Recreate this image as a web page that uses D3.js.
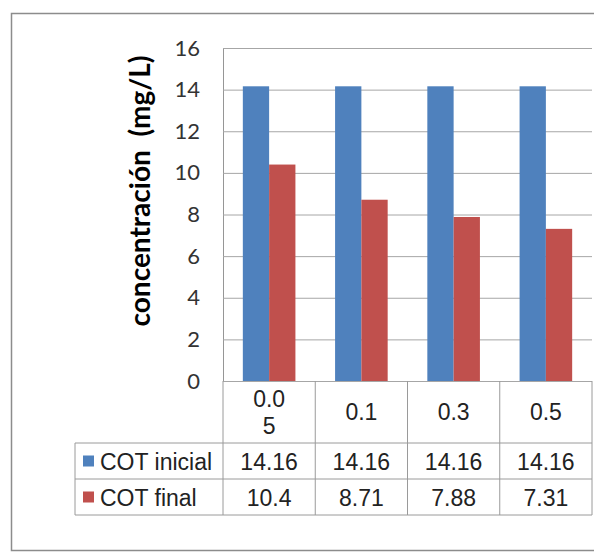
<!DOCTYPE html>
<html><head><meta charset="utf-8">
<script src="https://cdn.jsdelivr.net/npm/d3@7"></script>
<style>body{margin:0;background:#fff}</style>
</head><body>
<svg id="c" width="594" height="553"></svg>
<script>
const categories = ["0.05", "0.1", "0.3", "0.5"];
const categoryLines = [["0.0", "5"], ["0.1"], ["0.3"], ["0.5"]];
const seriesNames = ["COT inicial", "COT final"];
const cotInicial = [14.16, 14.16, 14.16, 14.16];
const cotFinal = [10.4, 8.71, 7.88, 7.31];
const tableInicial = ["14.16", "14.16", "14.16", "14.16"];
const tableFinal = ["10.4", "8.71", "7.88", "7.31"];
const yTicks = [0, 2, 4, 6, 8, 10, 12, 14, 16];
const colors = ["#4F81BD", "#C0504D"];
const yLabel = "concentración  (mg/L)";

const svg = d3.select("#c");
const L = 223, R = 592, T = 48, B = 381;
const tableLeft = 75, rowY = [381, 443, 479, 515];

svg.append("rect").attr("x", 11.5).attr("y", 13.5).attr("width", 600).attr("height", 537)
  .attr("fill", "#fff").attr("stroke", "#8c8c8c").attr("stroke-width", 1.5);

const x0 = d3.scaleBand().domain(categories).range([L, R]).padding(0);
const bw = x0.bandwidth();
const x1 = d3.scaleBand().domain(seriesNames).range([bw * 0.215, bw * 0.785]).padding(0);
const y = d3.scaleLinear().domain([0, 16]).range([B, T]);

const yAxis = d3.axisLeft(y).tickValues(yTicks).tickSize(-(R - L)).tickSizeOuter(0).tickPadding(23);
const gy = svg.append("g").attr("transform", `translate(${L},0)`).call(yAxis);
gy.select(".domain").attr("stroke", "#969696");
gy.selectAll(".tick line").attr("stroke", "#a6a6a6").attr("stroke-width", 1);
gy.selectAll(".tick text").attr("font-family", "Lato, 'Open Sans', sans-serif").attr("font-size", 22).attr("fill", "#333");

const series = [cotInicial, cotFinal];
series.forEach((vals, si) => {
  svg.append("g").selectAll("rect").data(vals).join("rect")
    .attr("x", (d, i) => x0(categories[i]) + x1(seriesNames[si]))
    .attr("y", d => y(d))
    .attr("width", x1.bandwidth())
    .attr("height", d => y(0) - y(d))
    .attr("fill", colors[si]);
});

// y-axis label
svg.append("text")
  .attr("transform", `translate(139,${(52 + 330) / 2}) rotate(-90)`)
  .attr("text-anchor", "middle").attr("dominant-baseline", "central")
  .attr("font-family", "Lato, sans-serif").attr("font-weight", "bold").attr("font-size", 28)
  .attr("fill", "#000").attr("xml:space", "preserve").style("white-space", "pre")
  .text(yLabel);

// data table
const gridColor = "#9a9a9a";
const tg = svg.append("g").attr("stroke", gridColor).attr("stroke-width", 1).attr("fill", "none");
const colEdges = categories.map(c => x0(c)).concat([R]);
colEdges.forEach(xe => {
  tg.append("line").attr("x1", xe).attr("x2", xe).attr("y1", rowY[0]).attr("y2", rowY[3]);
});
tg.append("line").attr("x1", tableLeft).attr("x2", tableLeft).attr("y1", rowY[1]).attr("y2", rowY[3]);
[1, 2, 3].forEach(k => {
  tg.append("line").attr("x1", tableLeft).attr("x2", R).attr("y1", rowY[k]).attr("y2", rowY[k]);
});

const tFont = "'Liberation Sans', Arial, sans-serif";
const fs = 23;
const textColor = "#222";
categories.forEach((c, i) => {
  const lines = categoryLines[i];
  const cx = x0(c) + bw / 2;
  const t = svg.append("text").attr("text-anchor", "middle").attr("font-family", tFont)
    .attr("font-size", fs).attr("fill", textColor);
  const mid = (rowY[0] + rowY[1]) / 2;
  const lh = 27;
  lines.forEach((ln, k) => {
    t.append("tspan").attr("x", cx).attr("y", mid + 8 + (k - (lines.length - 1) / 2) * lh).text(ln);
  });
});
[tableInicial, tableFinal].forEach((row, ri) => {
  const mid = (rowY[ri + 1] + rowY[ri + 2]) / 2;
  svg.append("g").selectAll("text").data(row).join("text")
    .attr("x", (d, i) => x0(categories[i]) + bw / 2)
    .attr("y", mid + 8.5)
    .attr("text-anchor", "middle").attr("font-family", tFont).attr("font-size", fs).attr("fill", textColor)
    .text(d => d);
  svg.append("rect").attr("x", 83).attr("y", mid - 5.5).attr("width", 11).attr("height", 11).attr("fill", colors[ri]);
  svg.append("text").attr("x", 100).attr("y", mid + 8.5).attr("font-family", tFont).attr("font-size", fs)
    .attr("fill", textColor).text(seriesNames[ri]);
});
</script>
</body></html>
